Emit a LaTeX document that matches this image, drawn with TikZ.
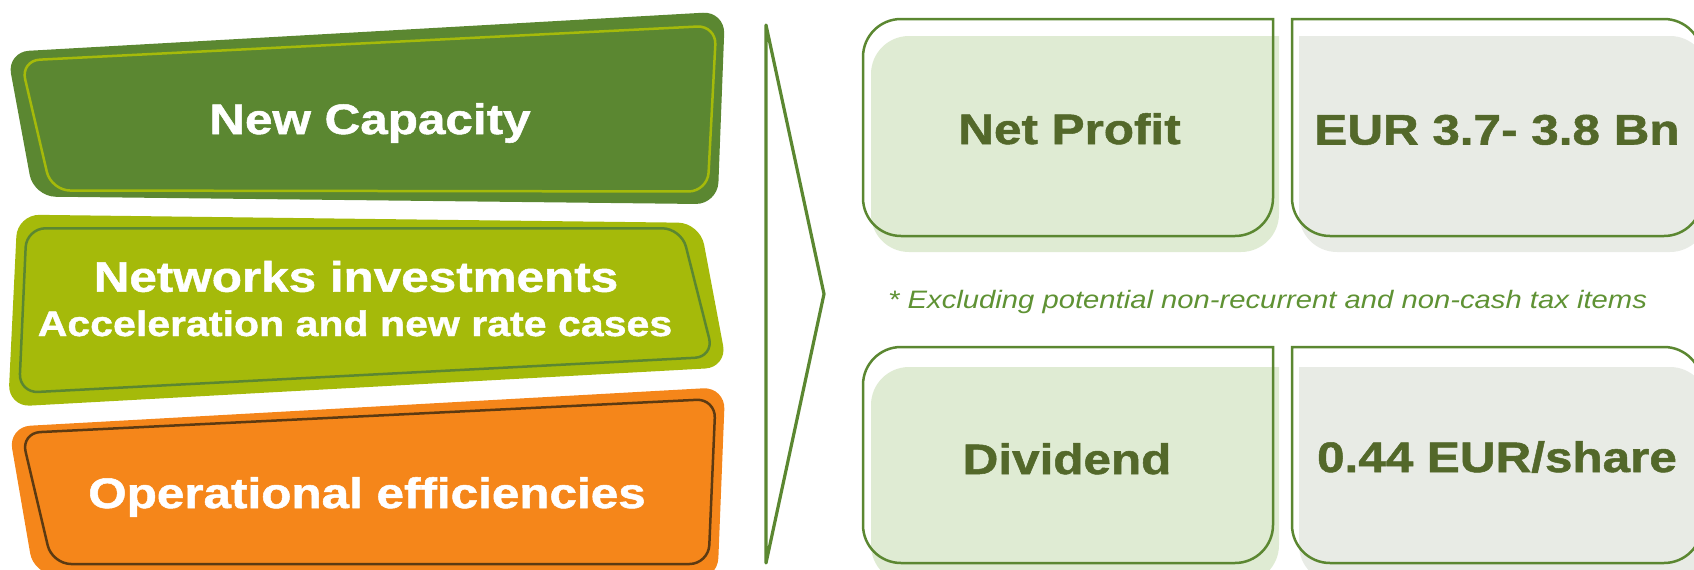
\documentclass[tikz,border=0pt]{standalone}
\usepackage{fontspec}
\newfontfamily\slidefont{Liberation Sans}[FakeStretch=1.16, BoldFeatures={FakeBold=1.2}]
\definecolor{dkgreen}{HTML}{5B8731}
\definecolor{ygreen}{HTML}{A5BA0A}
\definecolor{orng}{HTML}{F5861A}
\definecolor{obrown}{HTML}{5C3A12}
\definecolor{lgfill}{HTML}{DFEBD3}
\definecolor{gyfill}{HTML}{E8EBE5}
\definecolor{olivetext}{HTML}{53682A}
\definecolor{notegreen}{HTML}{5F9234}
\begin{document}
\begin{tikzpicture}[x=1pt,y=-1pt,
  outershape/.style={rounded corners=22pt},
  innerline/.style={rounded corners=19pt, line width=2.5pt},
  rbox/.style={rounded corners=38pt, line width=2.5pt, line cap=rect},
  lbl/.style={font={\slidefont\bfseries\fontsize{42.6}{46}\selectfont}, inner sep=0pt, anchor=base},
  lblsmall/.style={font={\slidefont\bfseries\fontsize{35.4}{40}\selectfont}, inner sep=0pt, anchor=base},
  note/.style={font={\slidefont\itshape\fontsize{25.2}{30}\selectfont}, text=notegreen, inner sep=0pt, anchor=base west},
  chev/.style={draw=dkgreen, line width=3.2pt, line join=round}]
\useasboundingbox (0,0) rectangle (1694,570);
\clip (0,0) rectangle (1694,570);

% New Capacity
\fill[dkgreen, outershape] (366,31.8) -- (725,11.5) -- (717.6,204.2) -- (33.7,196.5) -- (7,52) -- cycle;
\draw[ygreen, innerline] (368.6,43.1) -- (716.3,25.6) -- (707.6,191.5) -- (51.2,190.5) -- (20.8,60.6) -- cycle;

% Networks investments
\fill[ygreen, outershape] (358.7,218.8) -- (700,222.9) -- (727.2,367.3) -- (8.1,406.8) -- (17.4,214.6) -- cycle;
\draw[dkgreen, innerline] (353.9,228.3) -- (681.3,228.3) -- (713.8,356.8) -- (19.1,392.9) -- (26.5,228.3) -- cycle;

% Operational efficiencies
\fill[orng, outershape] (366.8,407) -- (725.2,387.1) -- (717.5,580) -- (33.9,575) -- (8.4,426.9) -- cycle;
\draw[obrown, innerline] (368.4,416) -- (715.6,398.9) -- (708.5,564) -- (52.1,564) -- (21.2,433) -- cycle;

% chevron
\coordinate (chtop) at (766,25);
\coordinate (chtip) at (824,294);
\coordinate (chbot) at (766,563);
\draw[chev] (chtop) -- (chtip) -- (chbot) -- cycle;

% right boxes: fills
\fill[lgfill, rounded corners=38pt] (1279,36) -- (1279,252) -- (871,252) -- (871,36) -- (1279,36);
\fill[gyfill, rounded corners=38pt] (1299,36) -- (1708,36) -- (1708,252) -- (1299,252) -- (1299,36);
\fill[lgfill, rounded corners=38pt] (1279,367) -- (1279,583) -- (871,583) -- (871,367) -- (1279,367);
\fill[gyfill, rounded corners=38pt] (1299,367) -- (1708,367) -- (1708,583) -- (1299,583) -- (1299,367);

% right boxes: outlines
\draw[dkgreen, rbox] (1273,19) -- (1273,236) -- (863,236) -- (863,19) -- (1273,19);
\draw[dkgreen, rbox] (1292,19) -- (1702,19) -- (1702,236) -- (1292,236) -- (1292,19);
\draw[dkgreen, rbox] (1273,347) -- (1273,563) -- (863,563) -- (863,347) -- (1273,347);
\draw[dkgreen, rbox] (1292,347) -- (1702,347) -- (1702,563) -- (1292,563) -- (1292,347);

% texts
\node[lbl, text=white] (nc) at (370,134) {New Capacity};
\node[lbl, text=white] (ni1) at (356,291.7) {Networks investments};
\node[lblsmall, text=white] (ni2) at (355,336) {Acceleration and new rate cases};
\node[lbl, text=white] (oe) at (367,508) {Operational efficiencies};
\node[lbl, text=olivetext] (np) at (1069.5,144) {Net Profit};
\node[lbl, text=olivetext] (eur) at (1497,144.5) {EUR 3.7- 3.8 Bn};
\node[lbl, text=olivetext] (dv) at (1067,474) {Dividend};
\node[lbl, text=olivetext] (sh) at (1497,472) {0.44 EUR/share};
\node[note] (fn) at (888,308) {* Excluding potential non-recurrent and non-cash tax items};
\end{tikzpicture}
\end{document}
